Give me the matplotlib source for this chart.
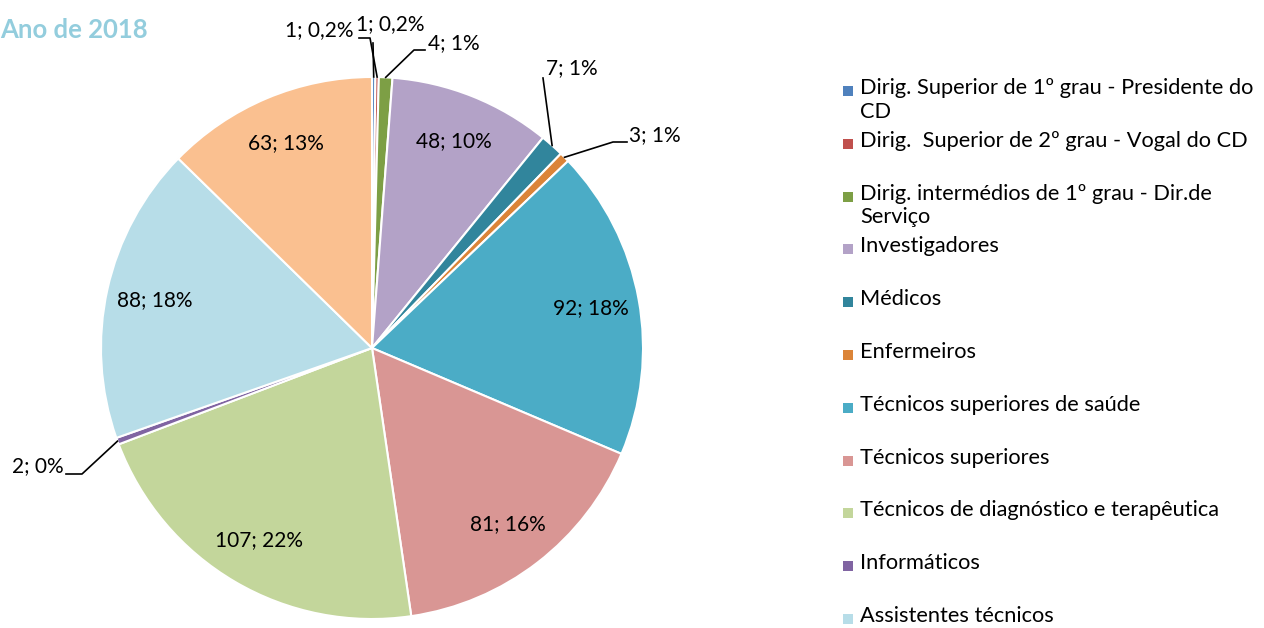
import numpy as np
import matplotlib.pyplot as plt

# --- data -------------------------------------------------------------
categories = [
    "Dirig. Superior de 1º grau - Presidente do\nCD",
    "Dirig.  Superior de 2º grau - Vogal do CD",
    "Dirig. intermédios de 1º grau - Dir.de\nServiço",
    "Investigadores",
    "Médicos",
    "Enfermeiros",
    "Técnicos superiores de saúde",
    "Técnicos superiores",
    "Técnicos de diagnóstico e terapêutica",
    "Informáticos",
    "Assistentes técnicos",
    "Assistentes operacionais",
]
values = [1, 1, 4, 48, 7, 3, 92, 81, 107, 2, 88, 63]
pct_labels = ["0,2%", "0,2%", "1%", "10%", "1%", "1%", "18%", "16%", "22%", "0%", "18%", "13%"]
colors = ["#4F81BD", "#C0504D", "#7D9F45", "#B3A2C7", "#31859C", "#DB8438",
          "#4BACC6", "#D99694", "#C3D69B", "#8064A2", "#B7DDE8", "#FAC090"]

FONT = "Lato"
W, H = 1264, 628
CX, CY, R = 372, 348, 271  # pie centre / radius in pixels


def px(x, y):
    """pixel position -> pie data coordinates"""
    return (x - CX) / R, (CY - y) / R


fig = plt.figure(figsize=(W / 100, H / 100), dpi=100)
ax = fig.add_axes([(CX - R) / W, (H - CY - R) / H, 2 * R / W, 2 * R / H])

wedges, _ = ax.pie(values, colors=colors, startangle=90, counterclock=False,
                   wedgeprops=dict(edgecolor="white", linewidth=1.5))
ax.set_xlim(-1, 1)
ax.set_ylim(-1, 1)
ax.set_aspect("equal")
ax.axis("off")

labels = [f"{v}; {p}" for v, p in zip(values, pct_labels)]

# labels inside the big slices
for i, w in enumerate(wedges):
    if values[i] < 20:
        continue
    mid = np.deg2rad((w.theta1 + w.theta2) / 2)
    ax.text(0.82 * np.cos(mid), 0.82 * np.sin(mid), labels[i], ha="center", va="center",
            fontsize=15, family=FONT, color="black")

# small slices: text position (px), alignment, leader points after the edge (px)
outside = {
    0: ((353, 30), "right", [(373, 43)]),
    1: ((356, 24), "left", [(370, 38), (359, 38)]),
    2: ((428, 43), "left", [(414, 50), (425, 50)]),
    4: ((546, 68), "left", [(543, 78)]),
    5: ((629, 135), "left", [(613, 142), (627, 142)]),
    9: ((64, 466), "right", [(82, 474), (66, 474)]),
}
for i, (tpos, ha, pts) in outside.items():
    w = wedges[i]
    mid = np.deg2rad((w.theta1 + w.theta2) / 2)
    xs = [np.cos(mid)] + [px(*p)[0] for p in pts]
    ys = [np.sin(mid)] + [px(*p)[1] for p in pts]
    ax.plot(xs, ys, color="black", linewidth=1.2, clip_on=False)
    tx, ty = px(*tpos)
    ax.text(tx, ty, labels[i], ha=ha, va="center", fontsize=15, family=FONT,
            color="black", clip_on=False)

# title
fig.text(0, 1 - 30 / H, "Ano de 2018", ha="left", va="center", fontsize=18.5,
         fontweight="bold", family=FONT, color="#93CDDD")

# legend drawn as Excel lays it out (fixed row pitch, wrapped text spills down);
# the last entry falls below the canvas in the original, so only 11 rows show
for i, (name, c) in enumerate(zip(categories[:11], colors[:11])):
    y = 91 + i * 52.8
    fig.patches.append(plt.Rectangle((843 / W, 1 - (y + 5) / H), 10 / W, 10 / H,
                                     transform=fig.transFigure, facecolor=c,
                                     edgecolor="none"))
    fig.text(860 / W, 1 - (y - 13) / H, name, ha="left", va="top", fontsize=15.7,
             family=FONT, color="black", linespacing=1.22)

fig.savefig("out.png", dpi=100)
